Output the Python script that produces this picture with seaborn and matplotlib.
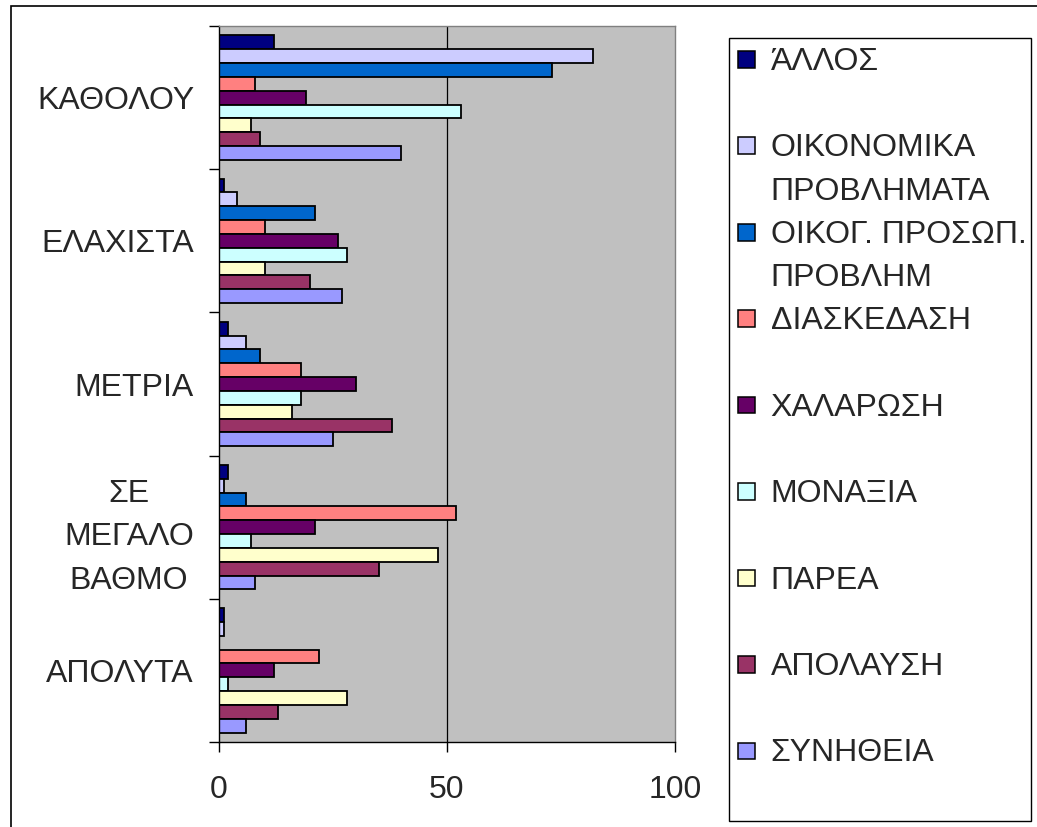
import numpy as np
import pandas as pd
import matplotlib
matplotlib.use("Agg")
import matplotlib.pyplot as plt
from matplotlib.patches import Patch, Rectangle
from matplotlib.legend_handler import HandlerPatch
from matplotlib.ticker import FixedLocator
import seaborn as sns

# ---- data -------------------------------------------------------------
categories = ["ΚΑΘΟΛΟΥ", "ΕΛΑΧΙΣΤΑ", "ΜΕΤΡΙΑ", "ΣΕ\nΜΕΓΑΛΟ\nΒΑΘΜΟ", "ΑΠΟΛΥΤΑ"]
series = [
    "ΆΛΛΟΣ",
    "ΟΙΚΟΝΟΜΙΚΑ\nΠΡΟΒΛΗΜΑΤΑ",
    "ΟΙΚΟΓ. ΠΡΟΣΩΠ.\nΠΡΟΒΛΗΜ",
    "ΔΙΑΣΚΕΔΑΣΗ",
    "ΧΑΛΑΡΩΣΗ",
    "ΜΟΝΑΞΙΑ",
    "ΠΑΡΕΑ",
    "ΑΠΟΛΑΥΣΗ",
    "ΣΥΝΗΘΕΙΑ",
]
allos = [12, 1, 2, 2, 1]
oikonomika = [82, 4, 6, 1, 1]
oikog_prosop = [73, 21, 9, 6, 0]
diaskedasi = [8, 10, 18, 52, 22]
xalarosi = [19, 26, 30, 21, 12]
monaxia = [53, 28, 18, 7, 2]
parea = [7, 10, 16, 48, 28]
apolafsi = [9, 20, 38, 35, 13]
synitheia = [40, 27, 25, 8, 6]
series_values = [allos, oikonomika, oikog_prosop, diaskedasi, xalarosi,
                 monaxia, parea, apolafsi, synitheia]
colors = ["#000080", "#CCCCFF", "#0066CC", "#FF8080", "#660066",
          "#CCFFFF", "#FFFFCC", "#993366", "#9999FF"]
x_ticks = [0, 50, 100]

df = pd.DataFrame(
    [(cat, name, val)
     for name, vals in zip(series, series_values)
     for cat, val in zip(categories, vals)],
    columns=["category", "series", "value"],
)

# ---- style ------------------------------------------------------------
FS = 23
sns.set_style("ticks")
plt.rcParams["font.family"] = ["Liberation Sans", "DejaVu Sans"]
plt.rcParams["font.size"] = FS

W, H = 1037, 827
fig = plt.figure(figsize=(W / 100, H / 100), dpi=100)
fig.patch.set_facecolor("white")
ax = fig.add_axes([219 / W, 1 - 742 / H, (675 - 219) / W, (742 - 26) / H])

sns.barplot(
    data=df, x="value", y="category", hue="series",
    order=categories, hue_order=series, palette=colors,
    orient="h", width=0.87, gap=0, saturation=1,
    edgecolor="black", linewidth=1.3, errorbar=None,
    legend=False, ax=ax,
)

ax.set_facecolor("#C0C0C0")
ax.set_xlim(0, 100)
ax.set_ylim(len(categories) - 0.5, -0.5)
ax.set_xlabel("")
ax.set_ylabel("")
ax.axvline(50, color="black", lw=0.9, zorder=0.5)

# x axis
ax.set_xticks(x_ticks)
ax.set_xticklabels([str(t) for t in x_ticks])
ax.tick_params(axis="x", which="major", length=7, width=1, direction="out",
               pad=17, labelsize=FS, color="black")

# y axis: labels at group centres, tick marks between groups
ax.set_yticks(range(len(categories)))
ax.set_yticklabels(categories)
ax.tick_params(axis="y", which="major", length=0, pad=18, labelsize=FS)
ax.yaxis.set_minor_locator(FixedLocator(np.arange(-0.5, len(categories), 1.0)))
ax.tick_params(axis="y", which="minor", length=7, width=1, direction="out",
               color="black")
for t in ax.get_yticklabels():
    t.set_multialignment("center")
    t.set_linespacing(1.58)

for side in ("left", "bottom"):
    ax.spines[side].set_color("black")
    ax.spines[side].set_linewidth(1)
for side in ("top", "right"):
    ax.spines[side].set_visible(True)
    ax.spines[side].set_color("#808080")
    ax.spines[side].set_linewidth(1)

# ---- legend -----------------------------------------------------------
def square_on_first_line(legend, orig_handle, xdescent, ydescent,
                         width, height, fontsize):
    y0 = 1.12 * fontsize - width / 2
    return Rectangle((-xdescent, y0), width, width)


handles = [Patch(facecolor=c, edgecolor="black", linewidth=1.1) for c in colors]
labels = [s if "\n" in s else s + "\n" for s in series]
leg = fig.legend(
    handles, labels,
    loc="upper left",
    bbox_to_anchor=(729 / W, 1 - 38 / H, (1031 - 729) / W, 0.0),
    mode="expand", borderaxespad=0,
    frameon=True, fancybox=False, shadow=False,
    edgecolor="black", framealpha=1, facecolor="white",
    fontsize=FS, handlelength=0.52, handleheight=0.52,
    handletextpad=0.5, borderpad=0.28, labelspacing=0.41,
    handler_map={Patch: HandlerPatch(patch_func=square_on_first_line)},
)
leg.get_frame().set_linewidth(1)
for t in leg.get_texts():
    t.set_linespacing(1.58)

# ---- outer chart frame ------------------------------------------------
fig.add_artist(Rectangle((11 / W, -0.1), 1.2, 1.1 - 6 / H,
                         transform=fig.transFigure, fill=False,
                         edgecolor="black", linewidth=1.2))

fig.savefig("out.png", dpi=100)
